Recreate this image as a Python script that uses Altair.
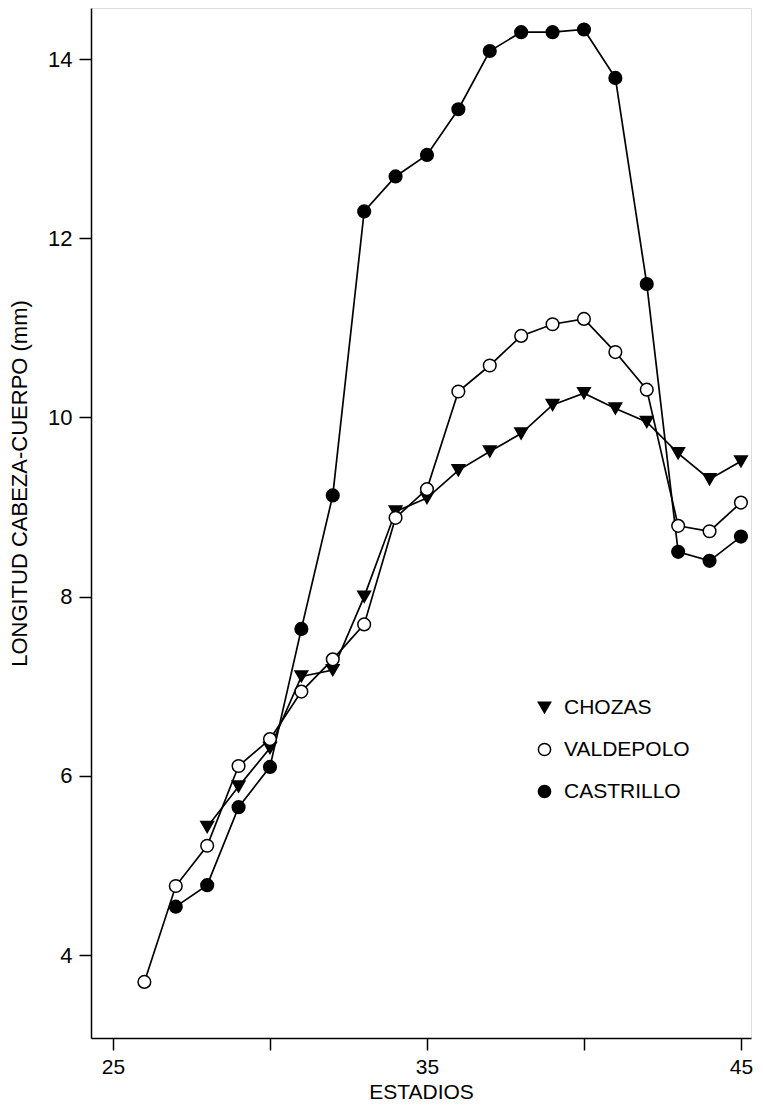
import altair as alt
import pandas as pd

# Stage numbers and head-body length (mm) for each population
chozas_stage = [28, 29, 30, 31, 32, 33, 34, 35, 36, 37, 38, 39, 40, 41, 42, 43, 44, 45]
chozas_len = [5.43, 5.88, 6.31, 7.11, 7.18, 8.00, 8.95, 9.10, 9.41, 9.62, 9.82, 10.14,
              10.27, 10.10, 9.95, 9.60, 9.31, 9.51]

valdepolo_stage = [26, 27, 28, 29, 30, 31, 32, 33, 34, 35, 36, 37, 38, 39, 40, 41, 42, 43, 44, 45]
valdepolo_len = [3.70, 4.77, 5.22, 6.11, 6.41, 6.94, 7.30, 7.69, 8.88, 9.20, 10.29, 10.58,
                 10.91, 11.04, 11.10, 10.73, 10.31, 8.79, 8.73, 9.05]

castrillo_stage = [27, 28, 29, 30, 31, 32, 33, 34, 35, 36, 37, 38, 39, 40, 41, 42, 43, 44, 45]
castrillo_len = [4.54, 4.78, 5.65, 6.10, 7.64, 9.13, 12.30, 12.69, 12.93, 13.44, 14.09, 14.30,
                 14.30, 14.33, 13.79, 11.49, 8.50, 8.40, 8.67]

series_names = ["CHOZAS", "VALDEPOLO", "CASTRILLO"]
series_shapes = ["triangle-down", "circle", "circle"]
series_fills = ["black", "white", "black"]
series_strokes = ["black", "black", "black"]

x_ticks = [25, 30, 35, 40, 45]
y_ticks = [4, 6, 8, 10, 12, 14]

rows = []
for name, st, ln in [("CHOZAS", chozas_stage, chozas_len),
                     ("VALDEPOLO", valdepolo_stage, valdepolo_len),
                     ("CASTRILLO", castrillo_stage, castrillo_len)]:
    for s, v in zip(st, ln):
        rows.append({"serie": name, "estadio": s, "longitud": v})
df = pd.DataFrame(rows)

FONT = "Liberation Sans"

x_enc = alt.X("estadio:Q",
              scale=alt.Scale(domain=[24.3, 45.32], nice=False, zero=False),
              axis=alt.Axis(values=x_ticks, title="ESTADIOS",
                            labelExpr="datum.value % 10 == 5 ? datum.label : ''",
                            tickSize=12, labelPadding=6, titlePadding=4,
                            labelFontSize=21, titleFontSize=21,
                            labelFont=FONT, titleFont=FONT,
                            titleFontWeight="normal",
                            domainColor="black", tickColor="black",
                            labelColor="black", titleColor="black",
                            domainWidth=1.5, tickWidth=1.5, grid=False))
y_enc = alt.Y("longitud:Q",
              scale=alt.Scale(domain=[3.074, 14.57], nice=False, zero=False),
              axis=alt.Axis(values=y_ticks, title="LONGITUD CABEZA-CUERPO (mm)",
                            tickSize=12, labelPadding=7, titlePadding=16,
                            labelFontSize=22, titleFontSize=22,
                            labelFont=FONT, titleFont=FONT,
                            titleFontWeight="normal", titleY=475,
                            domainColor="black", tickColor="black",
                            labelColor="black", titleColor="black",
                            domainWidth=1.5, tickWidth=1.5, grid=False))

lines = alt.Chart(df).mark_line(color="black", strokeWidth=1.7).encode(
    x=x_enc, y=y_enc, detail="serie:N"
)

legend = alt.Legend(title=None, orient="none", legendX=443, legendY=689,
                    labelFont=FONT, labelFontSize=21, labelColor="black",
                    symbolSize=150, symbolStrokeWidth=1.5,
                    labelOffset=9, rowPadding=20, padding=0)

points = alt.Chart(df).mark_point(filled=False, size=160, strokeWidth=1.5,
                                  opacity=1).encode(
    x=x_enc, y=y_enc,
    shape=alt.Shape("serie:N", scale=alt.Scale(domain=series_names, range=series_shapes),
                    legend=legend),
    fill=alt.Fill("serie:N", scale=alt.Scale(domain=series_names, range=series_fills),
                  legend=legend),
    stroke=alt.Stroke("serie:N", scale=alt.Scale(domain=series_names, range=series_strokes),
                      legend=legend),
)

chart = alt.layer(lines, points).properties(
    width=660, height=1030,
    padding={"left": 0, "top": 0, "right": 0, "bottom": 0}
).configure_view(stroke=None).configure(background="white")

chart.save("out.html", embed_options={"renderer": "svg", "actions": False})
